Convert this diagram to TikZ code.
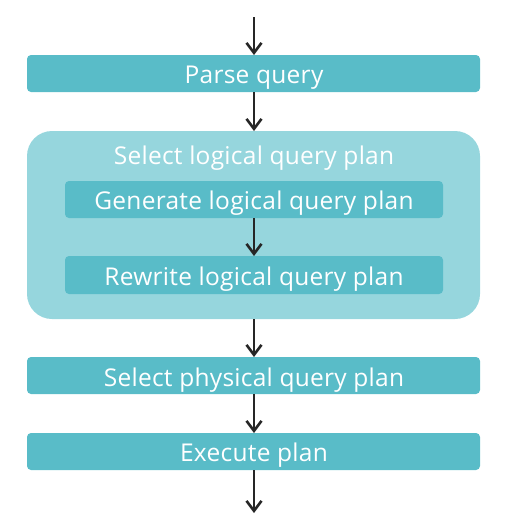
\documentclass[tikz,border=0pt]{standalone}
\usepackage{fontspec}
\setmainfont[LetterSpace=1.1]{Open Sans}
\usetikzlibrary{arrows.meta}
\definecolor{boxdark}{HTML}{59BCC8}
\definecolor{boxlight}{HTML}{96D6DD}
\tikzset{
  stepbox/.style={fill=boxdark, rounded corners=4pt},
  groupbox/.style={fill=boxlight, rounded corners=25pt},
  lbl/.style={text=white, font=\fontsize{24.5}{28}\selectfont, inner sep=0pt, anchor=base},
  flow/.style={line width=2.6pt, draw=black!85, -{Straight Barb[length=10pt,width=15pt,line width=2.6pt]}}
}
\begin{document}
\begin{tikzpicture}[x=1pt,y=-1pt]
\useasboundingbox (0,0) rectangle (518,528);
\coordinate (top) at (254,17);
\coordinate (bot) at (254,513);
\fill[groupbox] (27,131) rectangle (480,319);
\coordinate (grpT) at (254,131);
\coordinate (grpB) at (254,319);
\node[lbl] (grplbl) at (254,164) {Select logical query plan};
\fill[stepbox] (27,55) rectangle (480,92);
\node[lbl] (parse) at (254,83) {Parse query};
\coordinate (parseT) at (254,55);
\coordinate (parseB) at (254,92);
\fill[stepbox] (65,181) rectangle (443,218);
\node[lbl] (gen) at (254,209) {Generate logical query plan};
\coordinate (genB) at (254,218);
\fill[stepbox] (65,256) rectangle (443,294);
\node[lbl] (rew) at (254,285) {Rewrite logical query plan};
\coordinate (rewT) at (254,256);
\fill[stepbox] (27,357) rectangle (480,394);
\node[lbl] (phys) at (254,386) {Select physical query plan};
\coordinate (physT) at (254,357);
\coordinate (physB) at (254,394);
\fill[stepbox] (27,433) rectangle (480,470);
\node[lbl] (exec) at (254,461) {Execute plan};
\coordinate (execT) at (254,433);
\coordinate (execB) at (254,470);
\draw[flow] (top) -- (parseT);
\draw[flow] (parseB) -- (grpT);
\draw[flow] (genB) -- (rewT);
\draw[flow] (grpB) -- (physT);
\draw[flow] (physB) -- (execT);
\draw[flow] (execB) -- (bot);
\end{tikzpicture}
\end{document}
